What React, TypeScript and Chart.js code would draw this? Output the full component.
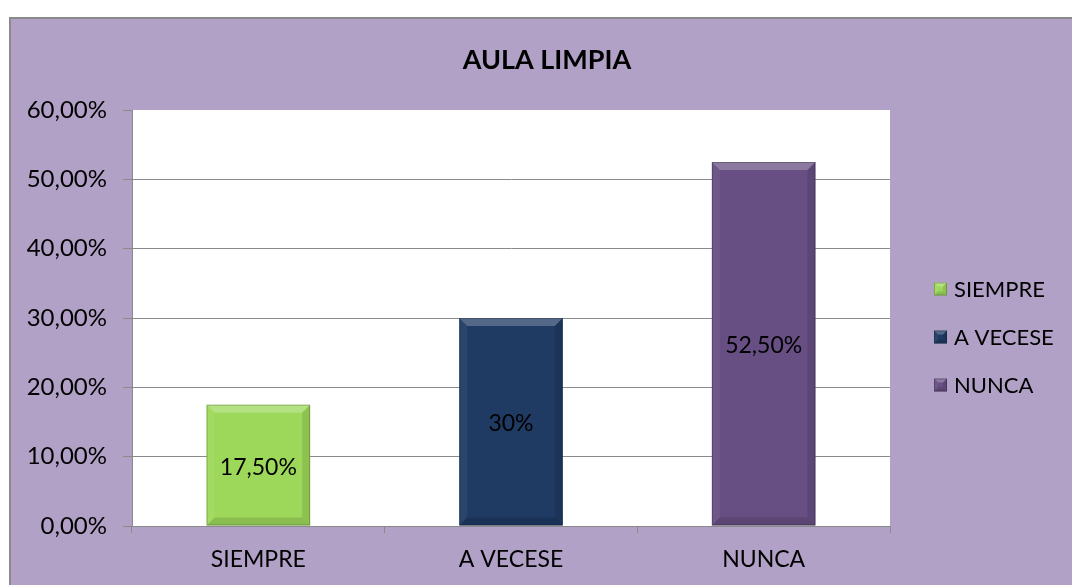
import React, { useEffect, useRef } from "react";
import { Chart, registerables } from "chart.js";
Chart.register(...registerables);

const title = "AULA LIMPIA";
const categories = ["SIEMPRE", "A VECESE", "NUNCA"];
const values = [0.175, 0.3, 0.525];
const valueLabels = ["17,50%", "30%", "52,50%"];
const barColors = ["#9DD85A", "#1F3A63", "#674F83"];

const W = 1072;
const H = 585;
const FONT = "Lato, 'Open Sans', sans-serif";

function fmtPct(v: number) {
  return (Math.round(v * 10000) / 100).toFixed(2).replace(".", ",") + "%";
}

function bevel(ctx: CanvasRenderingContext2D, l: number, t: number, r: number, b: number, d: number) {
  const poly = (pts: number[][], fill: string) => {
    ctx.beginPath();
    ctx.moveTo(pts[0][0], pts[0][1]);
    for (let i = 1; i < pts.length; i++) ctx.lineTo(pts[i][0], pts[i][1]);
    ctx.closePath();
    ctx.fillStyle = fill;
    ctx.fill();
  };
  poly([[l, t], [r, t], [r - d, t + d], [l + d, t + d]], "rgba(255,255,255,0.24)");
  poly([[l, t], [l + d, t + d], [l + d, b - d], [l, b]], "rgba(255,255,255,0.05)");
  poly([[r, t], [r, b], [r - d, b - d], [r - d, t + d]], "rgba(0,0,0,0.10)");
  poly([[l, b], [l + d, b - d], [r - d, b - d], [r, b]], "rgba(0,0,0,0.12)");
  ctx.strokeStyle = "rgba(0,0,0,0.22)";
  ctx.lineWidth = 1;
  ctx.strokeRect(l + 0.5, t + 0.5, r - l - 1, b - t - 1);
}

const framePlugin = {
  id: "frame",
  beforeDraw(chart: any) {
    const ctx = chart.ctx as CanvasRenderingContext2D;
    ctx.save();
    ctx.fillStyle = "#ffffff";
    ctx.fillRect(0, 0, W, H);
    ctx.fillStyle = "#B1A1C7";
    ctx.fillRect(9, 17, W, H);
    ctx.strokeStyle = "#8A8A8A";
    ctx.lineWidth = 2;
    ctx.strokeRect(10, 18, W + 10, H + 10);
    const a = chart.chartArea;
    ctx.fillStyle = "#ffffff";
    ctx.fillRect(a.left, a.top, a.right - a.left, a.bottom - a.top);
    ctx.restore();
  },
  afterDraw(chart: any) {
    const ctx = chart.ctx as CanvasRenderingContext2D;
    ctx.save();
    ctx.fillStyle = "#000";
    ctx.font = `bold 27px ${FONT}`;
    ctx.textAlign = "center";
    ctx.textBaseline = "middle";
    ctx.fillText(title, 547, 60);
    ctx.font = `22px ${FONT}`;
    ctx.textAlign = "left";
    categories.forEach((c, i) => {
      const cy = 289 + i * 48;
      const s = 13;
      const l = 934, t = cy - s / 2;
      ctx.fillStyle = barColors[i];
      ctx.fillRect(l, t, s, s);
      bevel(ctx, l, t, l + s, t + s, 4);
      ctx.fillStyle = "#000";
      ctx.fillText(c, 954, cy + 1);
    });
    ctx.restore();
  },
  afterDatasetsDraw(chart: any) {
    const ctx = chart.ctx as CanvasRenderingContext2D;
    const meta = chart.getDatasetMeta(0);
    ctx.save();
    meta.data.forEach((bar: any, i: number) => {
      const l = bar.x - bar.width / 2;
      const r = bar.x + bar.width / 2;
      bevel(ctx, l, bar.y, r, bar.base, 8);
      ctx.fillStyle = "#000";
      ctx.font = `23px ${FONT}`;
      ctx.textAlign = "center";
      ctx.textBaseline = "middle";
      ctx.fillText(valueLabels[i], bar.x, (bar.y + bar.base) / 2 + 2);
    });
    ctx.restore();
  },
};

export default function App() {
  const ref = useRef<HTMLCanvasElement>(null);
  useEffect(() => {
    if (!ref.current) return;
    const chart = new Chart(ref.current, {
      type: "bar",
      data: {
        labels: categories,
        datasets: [
          {
            data: values,
            backgroundColor: barColors,
            borderWidth: 0,
            categoryPercentage: 1,
            barPercentage: 0.41,
          },
        ],
      },
      options: {
        animation: false,
        responsive: false,
        devicePixelRatio: 1,
        layout: { padding: { left: 0, top: 110, right: 182, bottom: 0 } },
        plugins: { legend: { display: false }, title: { display: false }, tooltip: { enabled: false } },
        scales: {
          x: {
            afterFit: (s: any) => { s.height = 59; },
            grid: { display: true, drawOnChartArea: false, offset: true, tickLength: 7, color: "#8A8A8A" },
            border: { display: true, color: "#8A8A8A" },
            ticks: { color: "#000", font: { family: FONT, size: 23 }, padding: 13 },
          },
          y: {
            min: 0,
            max: 0.6,
            afterFit: (s: any) => { s.width = 132; },
            grid: {
              color: (c: any) => (c.tick && c.tick.value >= 0.6 ? "rgba(0,0,0,0)" : "#8A8A8A"),
              tickColor: "#8A8A8A",
              tickLength: 9,
            },
            border: { display: true, color: "#8A8A8A" },
            ticks: {
              stepSize: 0.1,
              color: "#000",
              font: { family: FONT, size: 24 },
              padding: 16,
              callback: (v: any) => fmtPct(Number(v)),
            },
          },
        },
      },
      plugins: [framePlugin],
    });
    return () => chart.destroy();
  }, []);
  return (
    <div style={{ position: "absolute", left: 0, top: 0, width: W, height: H }}>
      <canvas ref={ref} width={W} height={H} style={{ width: W, height: H, display: "block" }} />
    </div>
  );
}
